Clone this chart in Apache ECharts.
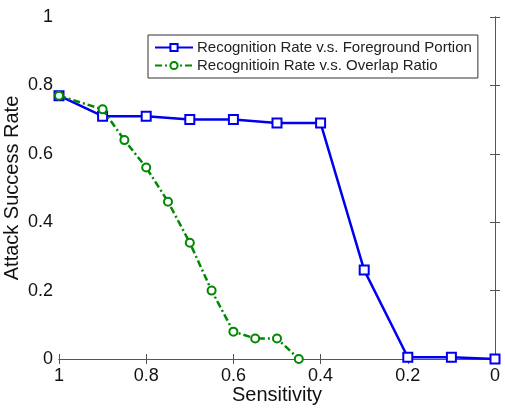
<!DOCTYPE html>
<html><head><meta charset="utf-8">
<script src="https://cdn.jsdelivr.net/npm/echarts@6/dist/echarts.min.js"></script>
<style>html,body{margin:0;padding:0;background:#fff}#c{width:505px;height:408px}</style>
</head><body><div id="c"></div>
<script>
const blueX = [1, 0.9, 0.8, 0.7, 0.6, 0.5, 0.4, 0.3, 0.2, 0.1, 0];
const blueY = [0.77, 0.71, 0.71, 0.70, 0.70, 0.69, 0.69, 0.26, 0.005, 0.005, 0.0];
const greenX = [1, 0.9, 0.85, 0.8, 0.75, 0.7, 0.65, 0.6, 0.55, 0.5, 0.45];
const greenY = [0.77, 0.73, 0.64, 0.56, 0.46, 0.34, 0.20, 0.08, 0.06, 0.06, 0.0];
const seriesNames = ['Recognition Rate v.s. Foreground Portion', 'Recognitioin Rate v.s. Overlap Ratio'];
const xTitle = 'Sensitivity';
const yTitle = 'Attack Success Rate';

const font = 'Liberation Sans, Arial, sans-serif';
const axisCol = '#555';
const chart = echarts.init(document.getElementById('c'), null, {renderer: 'canvas'});
const fmt = v => (v === 0 || v === 1) ? String(v) : String(Math.round(v * 10) / 10);
chart.setOption({
  animation: false,
  grid: {left: 59, right: 10, top: 17, bottom: 49, containLabel: false, outerBoundsMode: 'none'},
  legend: {
    show: true, left: 148, top: 35, orient: 'vertical',
    backgroundColor: '#fff', borderColor: '#333', borderWidth: 1,
    padding: [5, 6, 5, 6], itemGap: 3, itemWidth: 38, itemHeight: 9,
    textStyle: {fontFamily: font, fontSize: 15, color: '#222', padding: [0, 0, 0, -1]},
    data: seriesNames
  },
  xAxis: [{
    type: 'value', min: 0, max: 1, interval: 0.2, inverse: true,
    name: xTitle, nameLocation: 'middle', nameGap: 26, nameMoveOverlap: false,
    nameTextStyle: {fontFamily: font, fontSize: 20, color: '#111', verticalAlign: 'top'},
    axisLine: {show: true, lineStyle: {color: axisCol, width: 1}},
    axisTick: {show: true, inside: true, length: 5, lineStyle: {color: axisCol}},
    axisLabel: {fontFamily: font, fontSize: 18, color: '#111', margin: 8, formatter: fmt},
    splitLine: {show: false}
  }, {
    type: 'value', min: 0, max: 1, interval: 0.2, inverse: true, position: 'top',
    axisLine: {show: true, lineStyle: {color: axisCol, width: 1}},
    axisTick: {show: true, inside: true, length: 5, lineStyle: {color: axisCol}},
    axisLabel: {show: false}, splitLine: {show: false}
  }],
  yAxis: [{
    type: 'value', min: 0, max: 1, interval: 0.2,
    name: yTitle, nameLocation: 'middle', nameGap: 37, nameMoveOverlap: false,
    nameTextStyle: {fontFamily: font, fontSize: 20, color: '#111'},
    axisLine: {show: true, lineStyle: {color: axisCol, width: 1}},
    axisTick: {show: true, inside: true, length: 5, lineStyle: {color: axisCol}},
    axisLabel: {fontFamily: font, fontSize: 18, color: '#111', margin: 6, formatter: fmt},
    splitLine: {show: false}
  }, {
    type: 'value', min: 0, max: 1, interval: 0.2, position: 'right',
    axisLine: {show: true, lineStyle: {color: axisCol, width: 1}},
    axisTick: {show: true, inside: true, length: 5, lineStyle: {color: axisCol}},
    axisLabel: {show: false}, splitLine: {show: false}
  }],
  series: [{
    name: seriesNames[0], type: 'line',
    data: blueX.map((x, i) => [x, blueY[i]]),
    symbol: 'rect', symbolSize: 9, showAllSymbol: true,
    lineStyle: {color: '#0000ee', width: 2.5},
    itemStyle: {color: '#fff', borderColor: '#0000ee', borderWidth: 2},
    z: 3
  }, {
    name: seriesNames[1], type: 'line',
    data: greenX.map((x, i) => [x, greenY[i]]),
    symbol: 'circle', symbolSize: 8, showAllSymbol: true,
    lineStyle: {color: '#008800', width: 2.5, type: [7, 3, 2, 3]},
    itemStyle: {color: '#fff', borderColor: '#008800', borderWidth: 2},
    z: 4
  }]
});
</script></body></html>
